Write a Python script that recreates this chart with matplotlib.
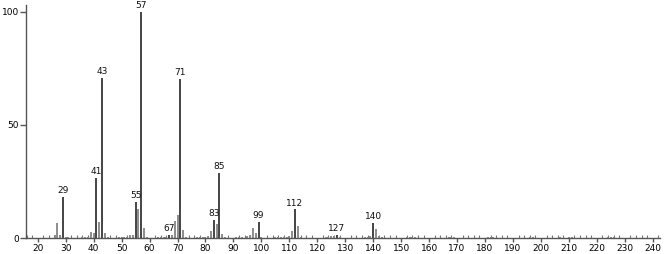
import matplotlib.pyplot as plt
from matplotlib.ticker import MultipleLocator

# m/z and relative intensity
mz = [26, 27, 28, 29, 30, 31, 36, 37, 38, 39, 40, 41, 42, 43, 44, 45,
      49, 50, 51, 52, 53, 54, 55, 56, 57, 58, 59,
      63, 64, 65, 66, 67, 68, 69, 70, 71, 72, 73,
      77, 78, 79, 80, 81, 82, 83, 84, 85, 86, 87,
      91, 92, 93, 95, 96, 97, 98, 99, 100,
      105, 106, 107, 108, 109, 110, 111, 112, 113, 114,
      123, 124, 125, 126, 127, 128,
      137, 138, 139, 140, 141, 142, 143,
      152, 153, 154, 155, 167, 168, 169, 181, 182, 183,
      196, 197, 207, 210, 211, 224, 225, 226]
intensity = [1.3, 6.7, 1.5, 18.0, 0.6, 0.5, 0.4, 0.5, 0.6, 2.8, 2.2, 26.5, 7.0, 70.8, 2.2, 0.5,
             0.4, 0.6, 0.5, 0.6, 1.3, 1.2, 16.0, 12.6, 100.0, 4.4, 0.5,
             0.4, 0.5, 0.6, 0.6, 1.5, 1.5, 7.4, 10.2, 70.2, 3.6, 0.6,
             0.4, 0.5, 0.5, 0.6, 0.7, 3.3, 8.1, 6.1, 28.6, 1.9, 0.5,
             0.5, 0.4, 0.5, 0.8, 1.5, 4.3, 2.2, 7.0, 0.6,
             0.5, 0.5, 0.6, 0.5, 0.6, 0.7, 3.0, 12.6, 5.2, 0.5,
             0.5, 0.6, 0.8, 0.8, 1.3, 0.5,
             0.5, 0.6, 0.7, 6.5, 4.0, 0.8, 0.6,
             0.5, 0.5, 0.5, 0.4, 0.4, 0.5, 0.5, 0.4, 0.5, 0.4,
             0.4, 0.5, 0.3, 0.5, 0.4, 0.4, 0.5, 0.4]

labeled = [29, 41, 43, 55, 57, 67, 71, 83, 85, 99, 112, 127, 140]
label_text = ['29', '41', '43', '55', '57', '67', '71', '83', '85', '99', '112', '127', '140']

fig = plt.figure(figsize=(6.66, 2.54), dpi=100)
ax = fig.add_axes([26 / 666, 16 / 254, 634 / 666, 233 / 254])

colors = ['#444444' if m in labeled else '#8c8c8c' for m in mz]
ax.vlines(mz, 0, intensity, colors=colors, linewidth=1.4)

for m, t in zip(labeled, label_text):
    y = intensity[mz.index(m)]
    ax.text(m, y + 0.8, t, ha='center', va='bottom', fontsize=6.5, color='#111111')

ax.set_xlim(15.8, 242.6)
ax.set_ylim(0, 103)
ax.xaxis.set_minor_locator(MultipleLocator(2))
ax.set_xticks(range(20, 241, 10))
ax.set_yticks([0, 50, 100])

for s in ['top', 'right']:
    ax.spines[s].set_visible(False)
for s in ['left', 'bottom']:
    ax.spines[s].set_color('#555555')
    ax.spines[s].set_linewidth(1.0)

ax.tick_params(axis='x', which='major', direction='out', length=3, width=1,
               color='#555555', labelsize=6.5, pad=1)
ax.tick_params(axis='x', which='minor', direction='in', length=2, width=0.8,
               color='#777777')
ax.tick_params(axis='y', which='major', direction='out', length=4, width=1,
               color='#555555', labelsize=6.5, pad=1)

fig.savefig('out.png', dpi=100)
